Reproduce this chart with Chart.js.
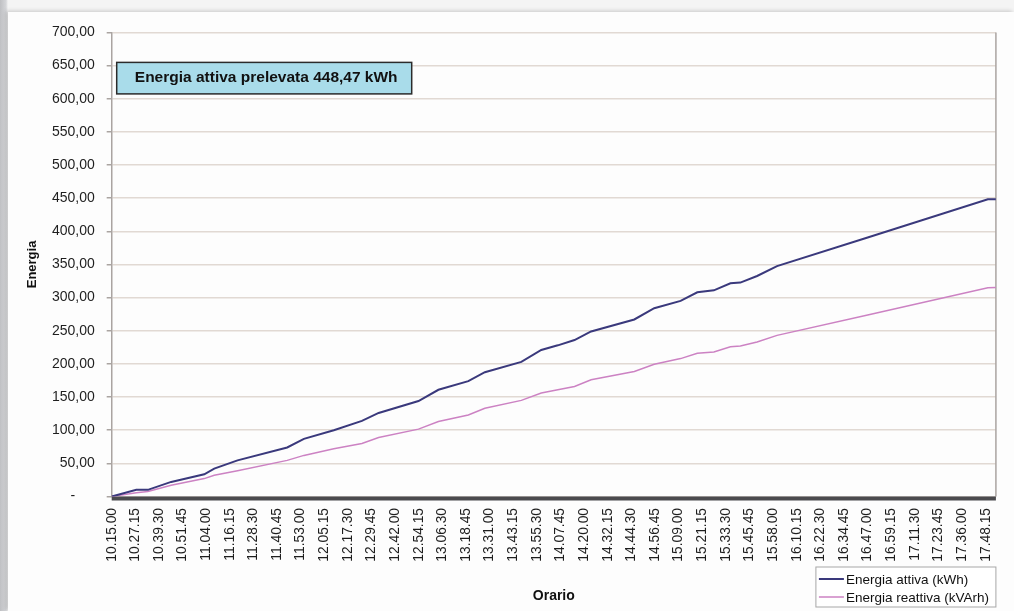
<!DOCTYPE html>
<html lang="it">
<head>
<meta charset="utf-8">
<title>Energia prelevata</title>
<script src="https://cdn.jsdelivr.net/npm/chart.js@4.4.1/dist/chart.umd.min.js"></script>
<style>
  html, body { margin: 0; padding: 0; }
  body {
    width: 1014px;
    height: 611px;
    overflow: hidden;
    position: relative;
    background: linear-gradient(to right, #bfc0c3 0px, #d5d6d9 6px, #f4f4f4 8px);
  }
  .sheet {
    position: absolute;
    left: 8px;
    top: 12px;
    width: 1006px;
    height: 599px;
    background: #fdfdfd;
    box-shadow: -2px -1px 4px rgba(0, 0, 0, 0.18);
  }
</style>
</head>
<body>
<div class="sheet"><canvas id="energia-chart"></canvas></div>
<script>
// letture del contatore (orario hh.mm.ss)
const orari = [
  "10.15.00", "10.27.45", "10.33.45", "10.45.50", "11.03.00", "11.08.10",
  "11.20.15", "11.46.00", "11.54.40", "12.10.10", "12.24.45", "12.33.25",
  "12.54.05", "13.04.25", "13.19.55", "13.28.30", "13.47.25", "13.57.45",
  "14.06.20", "14.15.00", "14.23.35", "14.46.00", "14.56.20", "15.10.00",
  "15.18.40", "15.27.15", "15.35.50", "15.41.00", "15.49.40", "16.00.00",
  "16.47.00", "17.49.20", "17.53.30",
];
const energiaAttiva = [
  0, 10, 10, 22, 33.5, 42, 54.5, 74, 87, 100,
  114, 126, 144, 161, 174, 187.5, 203, 221, 228,
  236, 249, 267, 284, 295, 308, 311, 321.6, 322.6, 332.6,
  347.5, 390.7, 448.2, 448.47,
];
const energiaReattiva = [
  0, 5.7, 7.5, 17, 27, 32, 39, 54.5, 62, 72,
  80, 89, 101.6, 113, 123, 133, 145, 156, 161,
  166, 176, 188.5, 199.4, 208, 216, 218, 226, 227, 233,
  243, 273.8, 315, 315.4,
];
const tickOrari = [
  "10.15.00", "10.27.15", "10.39.30", "10.51.45", "11.04.00", "11.16.15",
  "11.28.30", "11.40.45", "11.53.00", "12.05.15", "12.17.30", "12.29.45",
  "12.42.00", "12.54.15", "13.06.30", "13.18.45", "13.31.00", "13.43.15",
  "13.55.30", "14.07.45", "14.20.00", "14.32.15", "14.44.30", "14.56.45",
  "15.09.00", "15.21.15", "15.33.30", "15.45.45", "15.58.00", "16.10.15",
  "16.22.30", "16.34.45", "16.47.00", "16.59.15", "17.11.30", "17.23.45",
  "17.36.00", "17.48.15",
];
const fineAsse = "17.53.30";

const FONT = '"Liberation Sans", Arial, Helvetica, sans-serif';

const toSec = (s) => {
  const [h, m, sec] = s.split(".").map(Number);
  return h * 3600 + m * 60 + sec;
};
const fmtIt = (v) => v.toFixed(2).replace(".", ",");
const toPoints = (vals) => vals.map((v, i) => ({ x: toSec(orari[i]), y: v }));

const totaleAttiva = energiaAttiva[energiaAttiva.length - 1];

// bordo destro, fascia dei tick sull'asse X, riquadro del totale e legenda
const decorPlugin = {
  id: "decor",
  beforeDatasetsDraw(chart) {
    const { ctx, chartArea: a } = chart;
    ctx.save();
    ctx.strokeStyle = "#aaa4a1";
    ctx.lineWidth = 1.5;
    ctx.beginPath();
    ctx.moveTo(a.right, a.top);
    ctx.lineTo(a.right, a.bottom);
    ctx.stroke();
    ctx.fillStyle = "#4b4b4e";
    ctx.fillRect(a.left, a.bottom, a.right - a.left, 4);
    ctx.restore();
  },
  afterDraw(chart) {
    const { ctx, chartArea: a } = chart;
    ctx.save();

    // riquadro con il totale prelevato
    const bx = a.left + 5, by = a.top + 30, bw = 295, bh = 31.5;
    ctx.fillStyle = "#a9dcea";
    ctx.fillRect(bx, by, bw, bh);
    ctx.strokeStyle = "#2b2b2b";
    ctx.lineWidth = 1.5;
    ctx.strokeRect(bx, by, bw, bh);
    ctx.fillStyle = "#111";
    ctx.font = "bold 15.5px " + FONT;
    ctx.textAlign = "center";
    ctx.textBaseline = "middle";
    ctx.fillText("Energia attiva prelevata " + fmtIt(totaleAttiva) + " kWh", bx + bw / 2 + 2, by + bh / 2);

    // legenda in basso a destra
    const lw = 180, lh = 40;
    const lx = a.right - lw, ly = a.bottom + 70.5;
    ctx.fillStyle = "#ffffff";
    ctx.fillRect(lx, ly, lw, lh);
    ctx.strokeStyle = "#a7a7a7";
    ctx.lineWidth = 1;
    ctx.strokeRect(lx, ly, lw, lh);
    ctx.font = "13.5px " + FONT;
    ctx.textAlign = "left";
    chart.data.datasets.forEach((ds, i) => {
      const yy = ly + 12 + i * 18;
      ctx.strokeStyle = ds.borderColor;
      ctx.lineWidth = ds.borderWidth;
      ctx.beginPath();
      ctx.moveTo(lx + 3, yy);
      ctx.lineTo(lx + 28, yy);
      ctx.stroke();
      ctx.fillStyle = "#111";
      ctx.fillText(ds.label, lx + 30, yy + 1);
    });
    ctx.restore();
  },
};

const ctx = document.getElementById("energia-chart").getContext("2d");

new Chart(ctx, {
  type: "line",
  data: {
    datasets: [
      {
        label: "Energia attiva (kWh)",
        data: toPoints(energiaAttiva),
        borderColor: "#3a397c",
        borderWidth: 2,
        pointRadius: 0,
        tension: 0,
        order: 0,
      },
      {
        label: "Energia reattiva (kVArh)",
        data: toPoints(energiaReattiva),
        borderColor: "#cc82c3",
        borderWidth: 1.5,
        pointRadius: 0,
        tension: 0,
        order: 1,
      },
    ],
  },
  options: {
    responsive: true,
    maintainAspectRatio: false,
    animation: false,
    layout: {
      padding: { top: 14.7, right: 14, bottom: 0, left: 0 },
    },
    scales: {
      x: {
        type: "linear",
        min: toSec(tickOrari[0]),
        max: toSec(fineAsse),
        afterBuildTicks: (scale) => {
          scale.ticks = tickOrari.map((t) => ({ value: toSec(t) }));
        },
        afterFit: (scale) => {
          scale.height = 114.5;
        },
        grid: { display: false, drawTicks: false },
        border: { display: false },
        ticks: {
          autoSkip: false,
          minRotation: 90,
          maxRotation: 90,
          padding: 11.5,
          color: "#1e1e1e",
          font: { family: FONT, size: 13.8 },
          callback: (value, index) => tickOrari[index],
        },
        title: {
          display: true,
          text: "Orario",
          color: "#111",
          font: { family: FONT, size: 14, weight: "bold" },
          padding: { top: 0, bottom: 6 },
        },
      },
      y: {
        min: 0,
        max: 700,
        afterFit: (scale) => {
          scale.width = 103.7;
        },
        grid: {
          color: "#e1d9d3",
          lineWidth: 1.5,
          drawTicks: true,
          tickLength: 5,
          tickColor: "#aaa4a1",
        },
        border: { color: "#aaa4a1", width: 1.5 },
        ticks: {
          stepSize: 50,
          padding: 12,
          color: "#1e1e1e",
          font: { family: FONT, size: 14 },
          callback: (value) => (value === 0 ? "-     " : fmtIt(value)),
        },
        title: {
          display: true,
          text: "Energia",
          color: "#111",
          font: { family: FONT, size: 13, weight: "bold" },
          padding: { top: 17, bottom: 0 },
        },
      },
    },
    plugins: {
      legend: { display: false },
      tooltip: { enabled: false },
    },
  },
  plugins: [decorPlugin],
});
</script>
</body>
</html>
